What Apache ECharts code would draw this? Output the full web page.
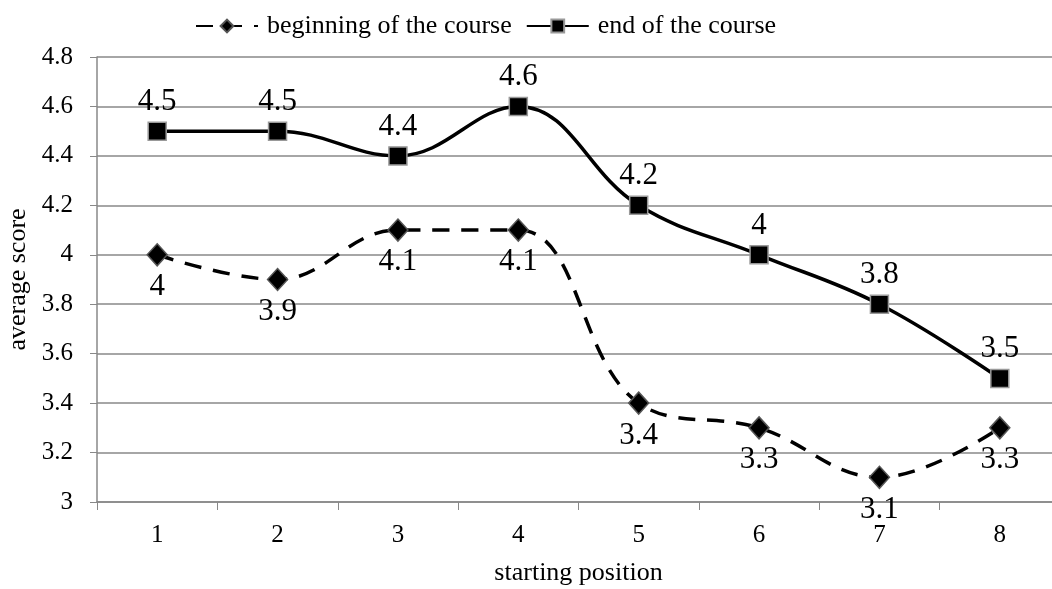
<!DOCTYPE html>
<html>
<head>
<meta charset="utf-8">
<script src="https://cdn.jsdelivr.net/npm/echarts@6/dist/echarts.min.js"></script>
<style>
  html, body { margin: 0; padding: 0; background: #fff; }
  #chart { width: 1052px; height: 589px; }
</style>
</head>
<body>
<div id="chart"></div>
<script>
var positions = ['1', '2', '3', '4', '5', '6', '7', '8'];
var beginScores = [4, 3.9, 4.1, 4.1, 3.4, 3.3, 3.1, 3.3];
var endScores = [4.5, 4.5, 4.4, 4.6, 4.2, 4, 3.8, 3.5];
var yTicks = [3, 4.8, 0.2]; // min, max, step

var font = '"Liberation Serif", "Times New Roman", serif';

var chart = echarts.init(document.getElementById('chart'));
chart.setOption({
    animation: false,
    textStyle: { fontFamily: font },
    legend: {
        top: 8,
        left: 190,
        itemWidth: 62,
        itemHeight: 16,
        itemGap: 14,
        textStyle: { fontFamily: font, fontSize: 26, color: '#000', padding: [0, 0, 0, 4] },
        data: [
            { name: 'beginning of the course' },
            { name: 'end of the course' }
        ]
    },
    grid: {
        left: 97,
        right: -8,
        top: 57,
        bottom: 87,
        outerBoundsMode: 'none'
    },
    xAxis: {
        type: 'category',
        data: positions,
        boundaryGap: true,
        name: 'starting position',
        nameLocation: 'middle',
        nameGap: 58,
        nameTextStyle: { fontFamily: font, fontSize: 26, color: '#000' },
        axisLine: { lineStyle: { color: '#888', width: 1.5 } },
        axisTick: { show: true, length: 8, lineStyle: { color: '#888' } },
        axisLabel: { fontFamily: font, fontSize: 25, color: '#000', margin: 21 }
    },
    yAxis: {
        type: 'value',
        min: yTicks[0],
        max: yTicks[1],
        interval: yTicks[2],
        name: 'average score',
        nameLocation: 'middle',
        nameGap: 66,
        nameTextStyle: { fontFamily: font, fontSize: 26, color: '#000' },
        axisLine: { show: true, lineStyle: { color: '#888', width: 1.5 } },
        axisTick: { show: true, length: 7, lineStyle: { color: '#888' } },
        axisLabel: { fontFamily: font, fontSize: 25, color: '#000', margin: 24 },
        splitLine: { lineStyle: { color: '#888', width: 1.5 } }
    },
    series: [
        {
            name: 'beginning of the course',
            type: 'line',
            data: beginScores,
            smooth: 0.4,
            symbol: 'diamond',
            symbolSize: [20, 22],
            itemStyle: { color: '#000', borderColor: '#555', borderWidth: 1.5 },
            lineStyle: { color: '#000', width: 3.5, type: [17, 12] },
            label: {
                show: true,
                position: 'bottom',
                distance: 5,
                fontFamily: font,
                fontSize: 31,
                color: '#000'
            }
        },
        {
            name: 'end of the course',
            type: 'line',
            data: endScores,
            smooth: 0.4,
            symbol: 'rect',
            symbolSize: 18,
            itemStyle: { color: '#000', borderColor: '#999', borderWidth: 1.5 },
            lineStyle: { color: '#000', width: 3.5 },
            label: {
                show: true,
                position: 'top',
                distance: 4,
                fontFamily: font,
                fontSize: 31,
                color: '#000'
            }
        }
    ]
});
</script>
</body>
</html>
